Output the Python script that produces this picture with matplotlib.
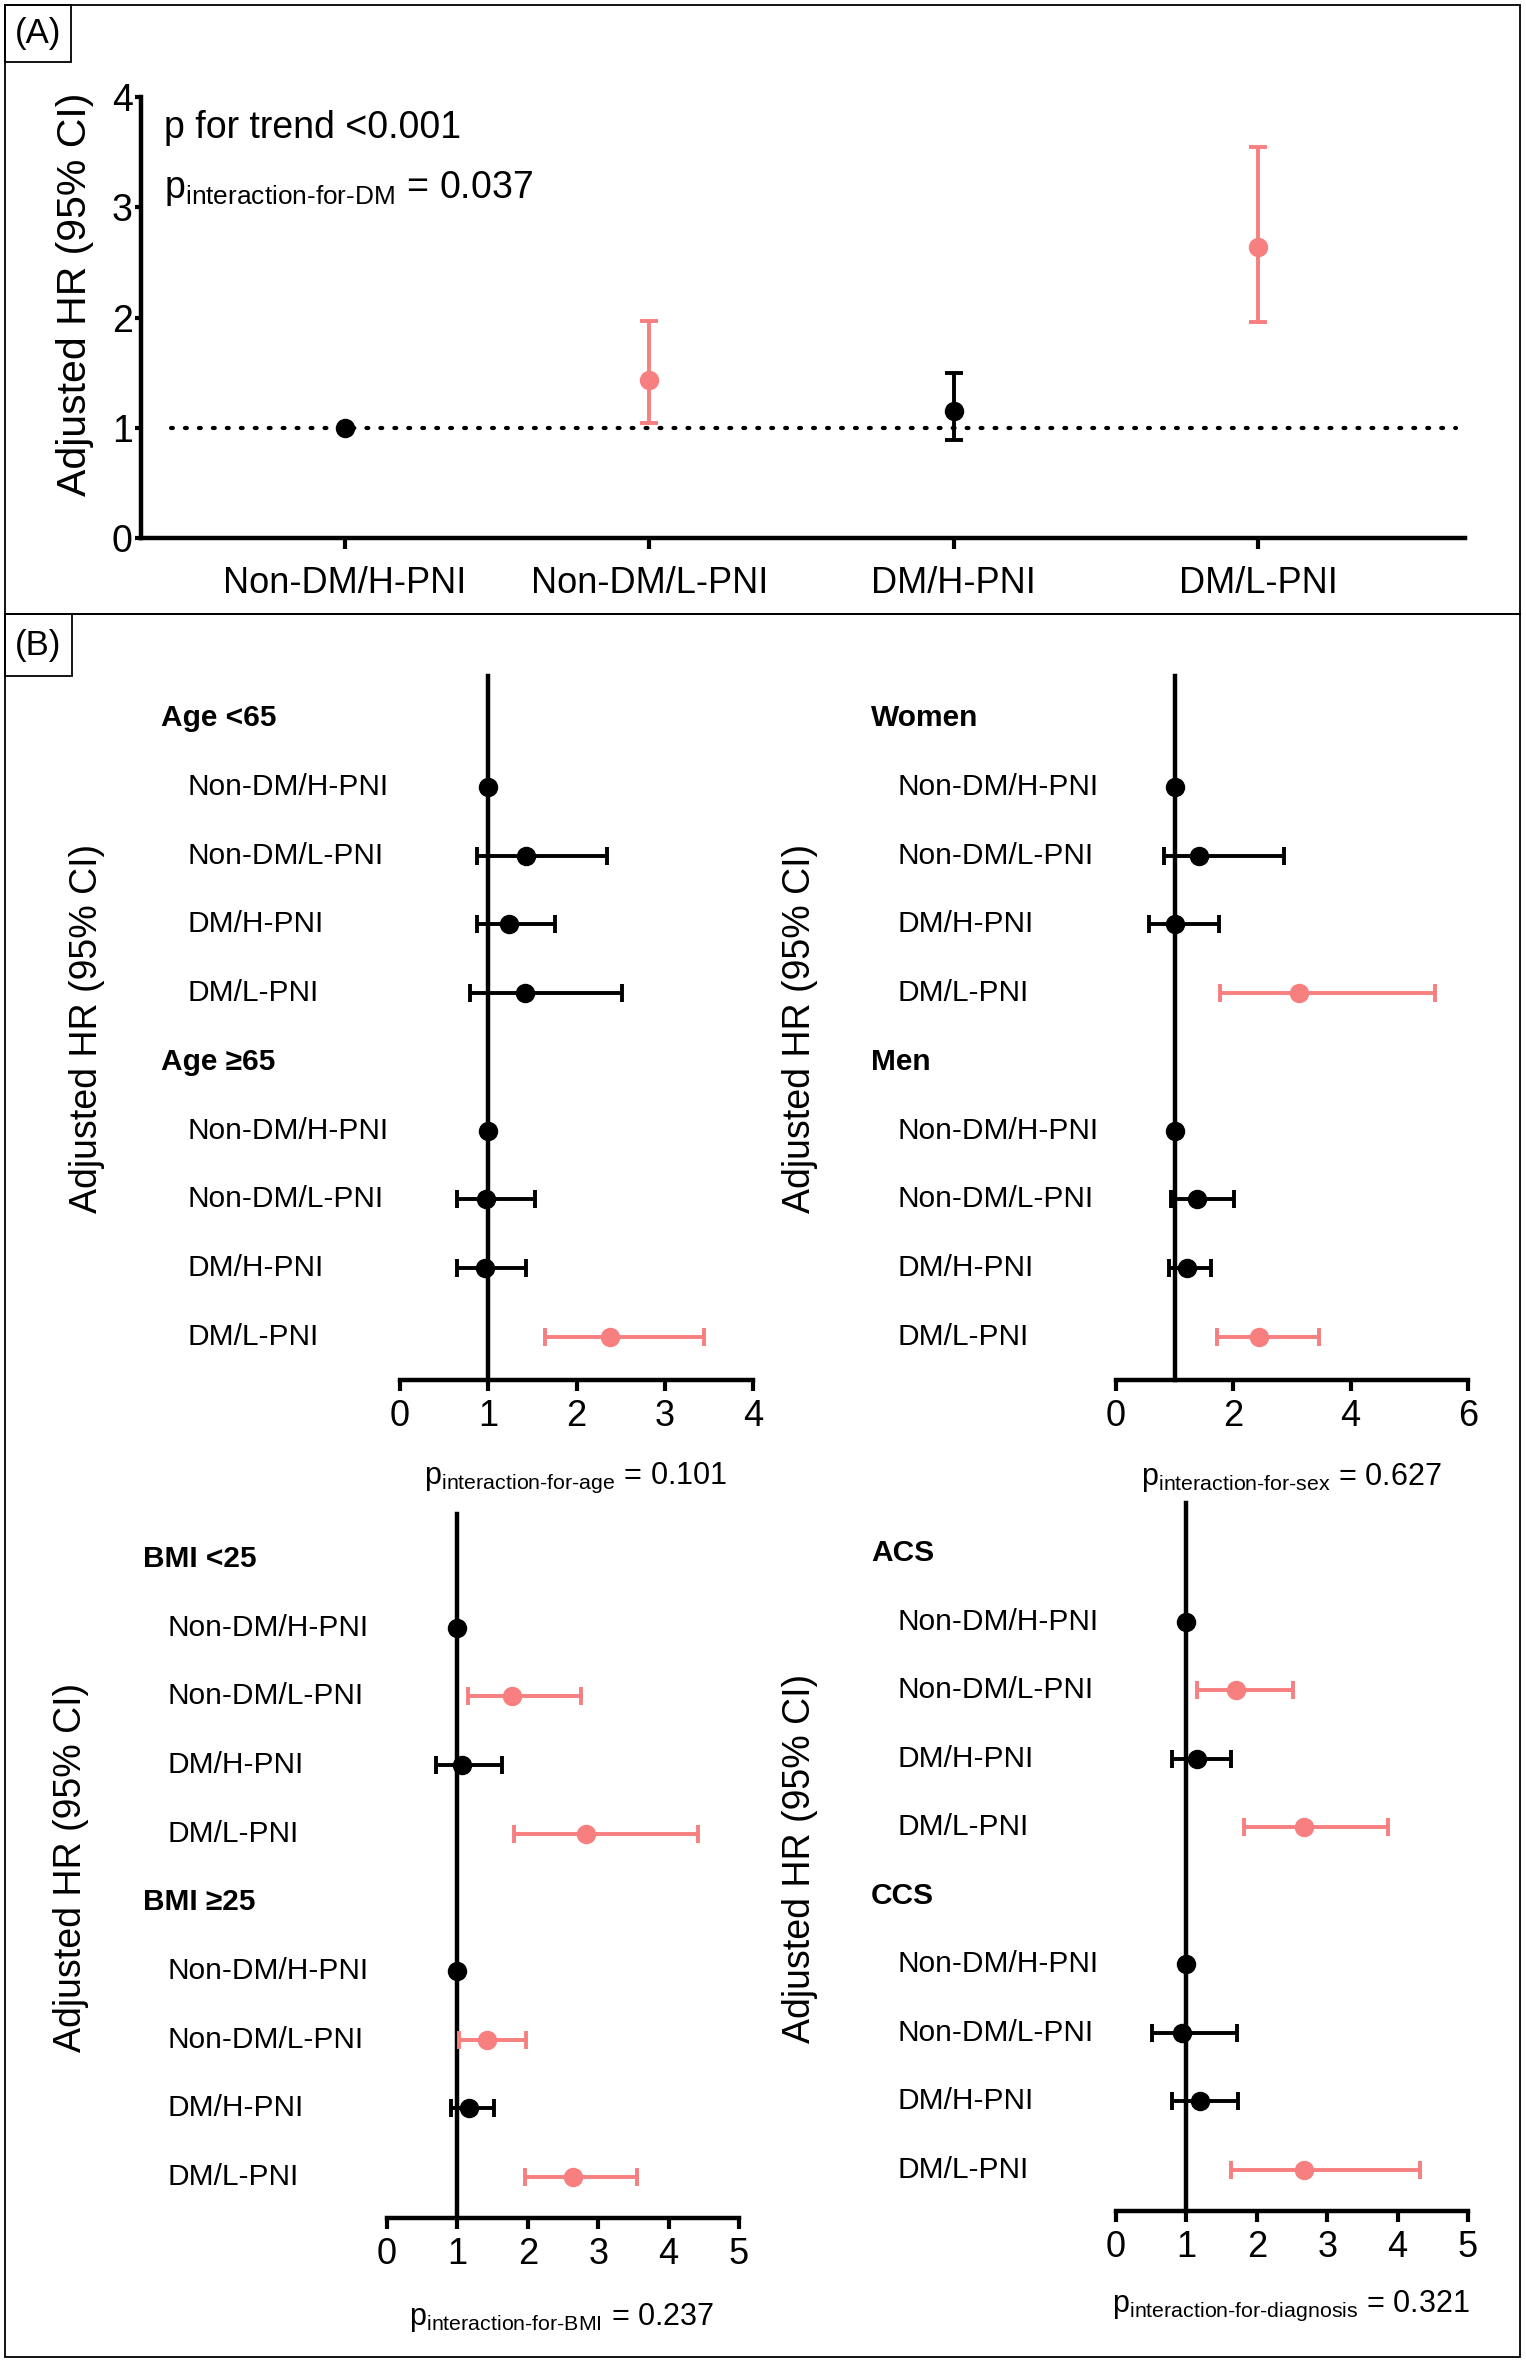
import numpy as np
import matplotlib
matplotlib.use('Agg')
import matplotlib.pyplot as plt
from matplotlib.patches import Rectangle
from matplotlib.transforms import blended_transform_factory

plt.rcParams['font.family'] = ['Liberation Sans', 'DejaVu Sans']
plt.rcParams['mathtext.fontset'] = 'custom'
plt.rcParams['mathtext.rm'] = 'Liberation Sans'
plt.rcParams['mathtext.it'] = 'Liberation Sans:italic'
plt.rcParams['mathtext.bf'] = 'Liberation Sans:bold'

W, H = 1526, 2362
PINK = '#F77F7F'

# categorias
groups = ['Non-DM/H-PNI', 'Non-DM/L-PNI', 'DM/H-PNI', 'DM/L-PNI']

# (A) populacao total
hr_all = [1.00, 1.43, 1.15, 2.64]
lo_all = [1.00, 1.04, 0.89, 1.96]
hi_all = [1.00, 1.97, 1.50, 3.55]
sig_all = [0, 1, 0, 1]

# (B) subgrupos - idade
age_headers = ['Age <65', 'Age \u226565']
age_hr = [1.00, 1.43, 1.23, 1.42, 1.00, 0.98, 0.96, 2.38]
age_lo = [1.00, 0.87, 0.87, 0.79, 1.00, 0.65, 0.65, 1.64]
age_hi = [1.00, 2.34, 1.76, 2.51, 1.00, 1.53, 1.43, 3.45]
age_sig = [0, 0, 0, 0, 0, 0, 0, 1]

# sexo
sex_headers = ['Women', 'Men']
sex_hr = [1.00, 1.42, 1.00, 3.12, 1.00, 1.38, 1.21, 2.44]
sex_lo = [1.00, 0.82, 0.57, 1.77, 1.00, 0.94, 0.90, 1.72]
sex_hi = [1.00, 2.87, 1.75, 5.43, 1.00, 2.01, 1.62, 3.46]
sex_sig = [0, 0, 0, 1, 0, 0, 0, 1]

# IMC
bmi_headers = ['BMI <25', 'BMI \u226525']
bmi_hr = [1.00, 1.78, 1.06, 2.83, 1.00, 1.42, 1.17, 2.64]
bmi_lo = [1.00, 1.15, 0.69, 1.80, 1.00, 1.02, 0.91, 1.96]
bmi_hi = [1.00, 2.76, 1.64, 4.42, 1.00, 1.97, 1.52, 3.55]
bmi_sig = [0, 1, 0, 1, 0, 1, 0, 1]

# diagnostico
dx_headers = ['ACS', 'CCS']
dx_hr = [1.00, 1.70, 1.15, 2.67, 1.00, 0.94, 1.20, 2.67]
dx_lo = [1.00, 1.15, 0.80, 1.82, 1.00, 0.51, 0.80, 1.64]
dx_hi = [1.00, 2.51, 1.63, 3.87, 1.00, 1.72, 1.73, 4.32]
dx_sig = [0, 1, 0, 1, 0, 0, 0, 1]

fig = plt.figure(figsize=(W / 100, H / 100), dpi=100)


def px_axes(x0, y0, x1, y1):
    return fig.add_axes([x0 / W, 1 - y1 / H, (x1 - x0) / W, (y1 - y0) / H])


def px_rect(x0, y0, x1, y1, lw=1.3):
    fig.add_artist(Rectangle((x0 / W, 1 - y1 / H), (x1 - x0) / W, (y1 - y0) / H,
                             transform=fig.transFigure, fill=False, lw=lw, ec='black'))


def px_text(x, y, s, **kw):
    fig.text(x / W, 1 - y / H, s, **kw)


# molduras
px_rect(5, 5, 1520, 614)
px_rect(5, 614, 1520, 2357)
px_rect(5, 5, 71, 62)
px_rect(5, 614, 72, 676)
px_text(38, 34, '(A)', fontsize=25, ha='center', va='center')
px_text(38, 645, '(B)', fontsize=25, ha='center', va='center')

# ---- painel A ----
axA = px_axes(141, 97, 1465, 538)
xs = np.arange(len(groups))
for i in range(len(groups)):
    c = PINK if sig_all[i] else 'black'
    if hi_all[i] > lo_all[i]:
        axA.errorbar(xs[i], hr_all[i], yerr=[[hr_all[i] - lo_all[i]], [hi_all[i] - hr_all[i]]],
                     fmt='o', color=c, ms=13, elinewidth=2.8, capsize=6.5, capthick=2.8, zorder=4)
    else:
        axA.plot(xs[i], hr_all[i], 'o', color=c, ms=13, zorder=4)
axA.plot([-0.57, 3.65], [1, 1], color='black', lw=3, linestyle=(0, (0.45, 2.9)),
         dash_capstyle='round', zorder=3)
axA.set_xlim(-0.67, 3.68)
axA.set_ylim(0, 4)
axA.set_xticks(xs)
axA.set_xticklabels(groups, fontsize=26)
axA.set_yticks([0, 1, 2, 3, 4])
axA.tick_params(axis='y', labelsize=27, length=4, width=3, pad=2)
axA.tick_params(axis='x', length=8, width=3, pad=12)
for s in ['top', 'right']:
    axA.spines[s].set_visible(False)
for s in ['left', 'bottom']:
    axA.spines[s].set_linewidth(3.2)
px_text(75, 294, 'Adjusted HR (95% CI)', fontsize=29.5, rotation=90, ha='center', va='center')
px_text(164, 128, 'p for trend <0.001', fontsize=27, ha='left', va='center')
px_text(164, 188, r'$\mathrm{p}_{\text{interaction-for-DM}}$ = 0.037', fontsize=27, ha='left', va='center')


# ---- painel B ----
def forest(box, xmax, headers, hr, lo, hi, sig, lab_x, head_x, ylab_xy, ptext, p_xy):
    x0, x1, top, bot, first, last = box
    ax = px_axes(x0, top, x1, bot)
    unit = (last - first) / 9
    ax.set_ylim(9 + (bot - last) / unit, -(first - top) / unit)
    ax.set_xlim(0, xmax)
    rows = [1, 2, 3, 4, 6, 7, 8, 9]
    for k, r in enumerate(rows):
        c = PINK if sig[k] else 'black'
        if hi[k] > lo[k]:
            ax.errorbar(hr[k], r, xerr=[[hr[k] - lo[k]], [hi[k] - hr[k]]], fmt='o', color=c,
                        ms=13, elinewidth=2.8, capsize=6.5, capthick=2.8, zorder=4)
        else:
            ax.plot(hr[k], r, 'o', color=c, ms=13, zorder=4)
    tr = blended_transform_factory(fig.transFigure, ax.transData)
    for k, r in enumerate(rows):
        ax.text(lab_x / W, r, groups[k % 4], transform=tr, fontsize=21.5, ha='left', va='center')
    for h, r in zip(headers, [0, 5]):
        ax.text(head_x / W, r, h, transform=tr, fontsize=21.5, fontweight='bold', ha='left', va='center')
    for s in ['top', 'right']:
        ax.spines[s].set_visible(False)
    ax.spines['left'].set_position(('data', 1))
    ax.spines['left'].set_linewidth(3.2)
    ax.spines['bottom'].set_linewidth(3.2)
    ax.set_yticks([])
    ax.set_xticks(np.arange(0, xmax + 1, 2 if xmax == 6 else 1))
    ax.tick_params(axis='x', labelsize=26, length=8, width=3, pad=6)
    px_text(ylab_xy[0], ylab_xy[1], 'Adjusted HR (95% CI)', fontsize=27, rotation=90,
            ha='center', va='center')
    px_text(p_xy[0], p_xy[1], r'$\mathrm{p}_{\text{interaction-for-%s}}$ = %s' % ptext,
            fontsize=22, ha='center', va='center')
    return ax


forest((400, 753, 676, 1380, 718, 1337), 4, age_headers, age_hr, age_lo, age_hi, age_sig,
       187, 161, (87, 1028), ('age', '0.101'), (575, 1478))
forest((1116, 1468, 676, 1380, 718, 1337), 6, sex_headers, sex_hr, sex_lo, sex_hi, sex_sig,
       898, 871, (800, 1028), ('sex', '0.627'), (1291, 1478))
forest((387, 739, 1514, 2218, 1559, 2177), 5, bmi_headers, bmi_hr, bmi_lo, bmi_hi, bmi_sig,
       168, 143, (71, 1867), ('BMI', '0.237'), (562, 2318))
forest((1116, 1468, 1503, 2211, 1553, 2170), 5, dx_headers, dx_hr, dx_lo, dx_hi, dx_sig,
       898, 871, (800, 1858), ('diagnosis', '0.321'), (1291, 2306))

fig.savefig('out.png', dpi=100)
